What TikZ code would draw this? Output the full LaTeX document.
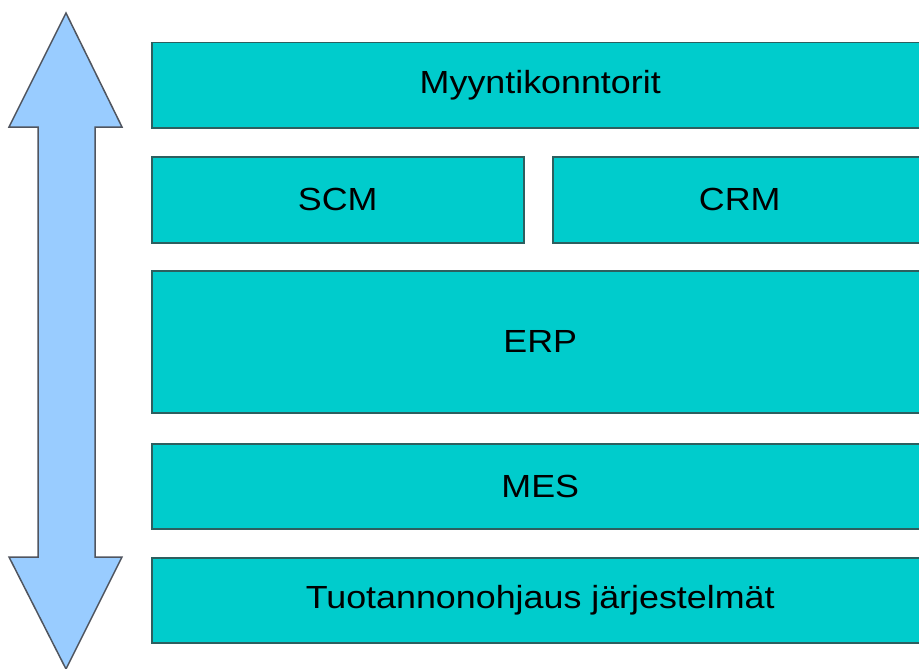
\documentclass[tikz,border=0pt]{standalone}
\usepackage{fontspec}
\setmainfont{Liberation Sans}[FakeStretch=1.12]
\definecolor{layerfill}{RGB}{0,204,204}
\definecolor{layerline}{RGB}{45,95,95}
\definecolor{arrowfill}{RGB}{153,204,255}
\definecolor{arrowline}{RGB}{80,85,95}
\begin{document}
\begin{tikzpicture}[x=1pt, y=-1pt,
  layer/.style={draw=layerline, fill=layerfill, line width=1.5pt, anchor=north west,
    inner sep=0pt, font=\fontsize{32}{38}\selectfont}]

\def \xl {151}      % left edge of the layers
\def \layerw {777}  % layers run past the right edge

\clip (0,0) rectangle (919,669);

% double arrow on the left
\draw[arrowline, fill=arrowfill, line width=1.5pt, line join=miter]
  (66,13) -- (122,127) -- (95,127) -- (95,557) -- (122,557) -- (66,669)
  -- (9,557) -- (38,557) -- (38,127) -- (9,127) -- cycle;

% full width layers
\foreach \name/\top/\hgt/\txt in {sales/42/85/Myyntikonntorit, erp/270/142/ERP,
  mes/443/85/MES, prod/557/85/Tuotannonohjaus järjestelmät}
{
  \node[layer, minimum width=\layerw pt, minimum height=\hgt pt] (\name) at (\xl,\top) {\txt};
}

% split layer
\node[layer, minimum width=372pt, minimum height=86pt] (scm) at (\xl,156) {SCM};
\node[layer, minimum width=374pt, minimum height=86pt] (crm) at (552,156) {CRM};
\end{tikzpicture}
\end{document}
